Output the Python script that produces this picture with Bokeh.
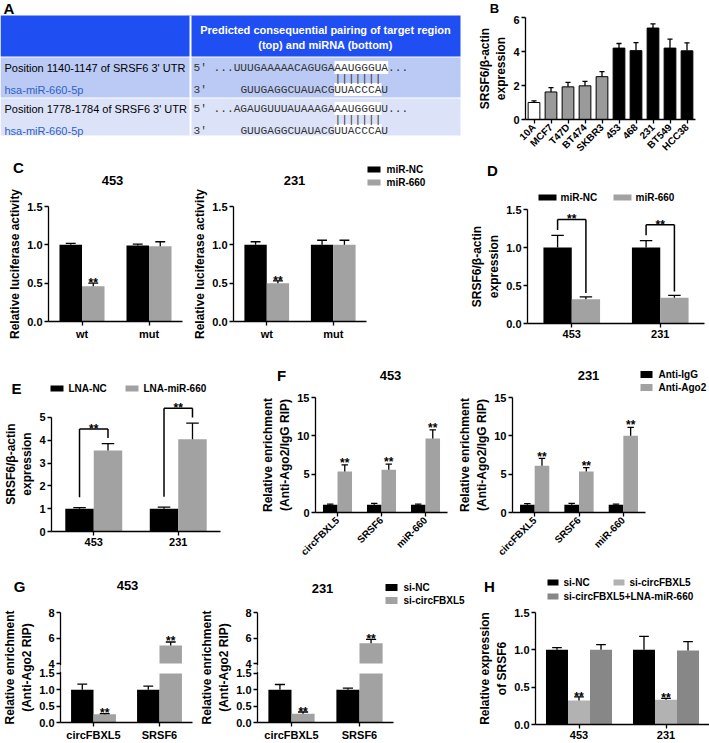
from math import pi
from bokeh.plotting import figure
from bokeh.models import (ColumnDataSource, FactorRange, Range1d, FixedTicker,
                          PrintfTickFormatter, BoxAnnotation)
from bokeh.layouts import row, column
from bokeh.transform import dodge, factor_cmap
from bokeh.core.properties import value
from bokeh.embed import file_html
from bokeh.resources import INLINE

# ------------------------------------------------------------------ data
a_header = ["Predicted consequential pairing of target region", "(top) and miRNA (bottom)"]
a_sites = ["Position 1140-1147 of SRSF6 3' UTR", "Position 1778-1784 of SRSF6 3' UTR"]
a_mirna = ["hsa-miR-660-5p", "hsa-miR-660-5p"]
a_target = ["...UUUGAAAAACAGUGAAAUGGGUA...", "...AGAUGUUUAUAAAGAAAUGGGUU..."]
a_mirseq = ["GUUGAGGCUAUACGUUACCCAU", "GUUGAGGCUAUACGUUACCCAU"]
a_site_len = [8, 7]
a_seed_target = "AAUGGGU"
a_seed_mirna = "UUACCCA"
a_ends = ["5'", "3'"]

b_lines = ["10A", "MCF7", "T47D", "BT474", "SKBR3", "453", "468", "231", "BT549", "HCC38"]
b_group = ["normal", "non-TNBC", "non-TNBC", "non-TNBC", "non-TNBC",
           "TNBC", "TNBC", "TNBC", "TNBC", "TNBC"]
b_vals = [1.0, 1.62, 1.92, 1.98, 2.52, 4.2, 4.05, 5.38, 4.2, 4.04]
b_errs = [0.1, 0.26, 0.26, 0.26, 0.3, 0.27, 0.47, 0.24, 0.53, 0.47]

c_constructs = ["wt", "mut"]
c_series = ["miR-NC", "miR-660"]
c_cells = ["453", "231"]
c453_nc, c453_nc_err = [1.0, 0.99], [0.02, 0.02]
c453_mir, c453_mir_err = [0.46, 0.98], [0.04, 0.06]
c453_sig = ["**", ""]
c231_nc, c231_nc_err = [1.0, 1.0], [0.04, 0.06]
c231_mir, c231_mir_err = [0.5, 1.0], [0.03, 0.06]
c231_sig = ["**", ""]

d_cells = ["453", "231"]
d_series = ["miR-NC", "miR-660"]
d_nc, d_nc_err = [1.0, 1.0], [0.16, 0.09]
d_mir, d_mir_err = [0.32, 0.34], [0.03, 0.03]
d_sig = ["**", "**"]

e_cells = ["453", "231"]
e_series = ["LNA-NC", "LNA-miR-660"]
e_nc, e_nc_err = [1.0, 1.0], [0.05, 0.07]
e_lna, e_lna_err = [3.55, 4.05], [0.3, 0.7]
e_sig = ["**", "**"]

f_targets = ["circFBXL5", "SRSF6", "miR-660"]
f_series = ["Anti-IgG", "Anti-Ago2"]
f_cells = ["453", "231"]
f453_igg, f453_igg_err = [1.0, 1.0, 1.0], [0.1, 0.2, 0.1]
f453_ago, f453_ago_err = [5.35, 5.57, 9.65], [0.85, 0.73, 1.13]
f453_sig = ["**", "**", "**"]
f231_igg, f231_igg_err = [1.0, 1.0, 1.0], [0.15, 0.2, 0.1]
f231_ago, f231_ago_err = [6.1, 5.35, 10.0], [0.95, 0.5, 1.1]
f231_sig = ["**", "**", "**"]

g_targets = ["circFBXL5", "SRSF6"]
g_series = ["si-NC", "si-circFBXL5"]
g_cells = ["453", "231"]
g453_nc, g453_nc_err = [1.0, 1.0], [0.17, 0.11]
g453_si, g453_si_err = [0.25, 5.41], [0.02, 0.28]
g453_sig = ["**", "**"]
g231_nc, g231_nc_err = [1.0, 1.0], [0.16, 0.05]
g231_si, g231_si_err = [0.27, 5.6], [0.05, 0.3]
g231_sig = ["**", "**"]

h_cells = ["453", "231"]
h_series = ["si-NC", "si-circFBXL5", "si-circFBXL5+LNA-miR-660"]
h_nc, h_nc_err = [1.0, 1.0], [0.03, 0.18]
h_si, h_si_err = [0.32, 0.33], [0.05, 0.02]
h_lna, h_lna_err = [1.0, 0.99], [0.07, 0.12]
h_sig = ["**", "**"]

panel_letters = ["A", "B", "C", "D", "E", "F", "G", "H"]

# ------------------------------------------------------------------ style helpers
SC = 1.0
def S(v):
    return int(round(v * SC))

FONT = "Liberation Sans"
MONO = "Liberation Mono"
GRAY = "#A2A2A2"
BGRAY = "#9A9A9A"
HLIGHT = "#B2B2B2"
HDARK = "#878787"
HDR = "#1F4EF2"
ROW1 = "#BACAF4"
ROW2 = "#DCE3F8"
LINKBLUE = "#2F62C6"
NAN = float("nan")


def style_axis(ax, tick_size="11px"):
    ax.axis_line_color = "black"
    ax.axis_line_width = 1.3
    ax.major_tick_line_color = "black"
    ax.major_tick_line_width = 1.3
    ax.major_tick_in = 0
    ax.major_tick_out = 4
    ax.minor_tick_line_color = None
    ax.major_label_text_font = FONT
    ax.major_label_text_font_style = "bold"
    ax.major_label_text_font_size = tick_size
    ax.major_label_text_color = "black"
    ax.major_label_standoff = 2
    ax.axis_label_text_font = FONT
    ax.axis_label_text_font_style = "bold"
    ax.axis_label_text_font_size = "12px"
    ax.axis_label_text_color = "black"
    ax.axis_label_standoff = 2


def fig(box, frame, xr, yr, **kw):
    x0, y0, x1, y1 = box
    fx0, fy0, fx1, fy1 = frame
    p = figure(width=S(x1) - S(x0), height=S(y1) - S(y0), x_range=xr, y_range=yr,
               min_border_left=S(fx0) - S(x0), min_border_right=S(x1) - S(fx1),
               min_border_top=S(fy0) - S(y0), min_border_bottom=S(y1) - S(fy1),
               output_backend="svg", toolbar_location=None, frame_align=False, **kw)
    p.title = None
    p.outline_line_color = None
    p.background_fill_color = "white"
    p.border_fill_color = "white"
    p.xgrid.visible = False
    p.ygrid.visible = False
    for ax in p.axis:
        style_axis(ax)
    return p


def strip(x0, y0, x1, y1):
    p = figure(width=S(x1) - S(x0), height=S(y1) - S(y0), x_range=Range1d(x0, x1),
               y_range=Range1d(-y1, -y0), x_axis_location=None, y_axis_location=None,
               min_border=0, output_backend="svg", toolbar_location=None, frame_align=False)
    p.title = None
    p.outline_line_color = None
    p.background_fill_color = "white"
    p.border_fill_color = "white"
    p.grid.visible = False
    return p


def stext(p, x, y, text, size="13px", align="center", style="bold", color="black"):
    p.text(x=[x], y=[-y], text=[text], text_font=value(FONT), text_font_style=style,
           text_font_size=size, text_align=align, text_baseline="middle", text_color=color)


def slegend(p, labels, colors, xs, ys, sw, sh, gap):
    for lab, col, x, y in zip(labels, colors, xs, ys):
        p.quad(left=[x], right=[x + sw], top=[-(y - sh / 2.0)], bottom=[-(y + sh / 2.0)],
               fill_color=col, line_color=None)
        stext(p, x + sw + gap, y, lab, size="10px", align="left")


def yaxis(p, ticks, fmt, bounds, label=""):
    ax = p.yaxis[0]
    ax.ticker = FixedTicker(ticks=ticks)
    ax.formatter = PrintfTickFormatter(format=fmt)
    ax.bounds = bounds
    ax.axis_label = label


def add_bars(p, cats, vals_list, errs_list, colors, width, line_color=None, cap=0.22):
    n = len(vals_list)
    offs = [(k - (n - 1) / 2.0) * width for k in range(n)]
    for k in range(n):
        vals, errs = vals_list[k], errs_list[k]
        src = ColumnDataSource(dict(cat=list(cats), top=list(vals),
                                    etop=[v + e for v, e in zip(vals, errs)]))
        xc = dodge("cat", offs[k], range=p.x_range)
        p.vbar(x=xc, top="top", bottom=0, width=width, source=src,
               fill_color=colors[k], line_color=line_color, line_width=1)
        p.segment(x0=xc, y0="top", x1=xc, y1="etop", source=src, line_color="black", line_width=1.3)
        p.segment(x0=dodge("cat", offs[k] - cap * width, range=p.x_range), y0="etop",
                  x1=dodge("cat", offs[k] + cap * width, range=p.x_range), y1="etop",
                  source=src, line_color="black", line_width=1.3)
    return offs


def add_stars(p, cats, off, ys, sig, y_range_name="default"):
    src = ColumnDataSource(dict(cat=list(cats), y=list(ys), s=list(sig)))
    p.text(x=dodge("cat", off, range=p.x_range), y="y", text="s", source=src,
           text_font=value(FONT), text_font_style="bold", text_font_size="12px",
           text_align="center", text_baseline="alphabetic", text_color="black",
           y_range_name=y_range_name)


def add_brackets(p, cats, offl, offr, a_top, b_top, h, gl, gr, sig):
    top = [max(a, b) + h for a, b in zip(a_top, b_top)]
    lb = [a + gl for a in a_top]
    rb = [b + gr for b in b_top]
    src = ColumnDataSource(dict(cat=list(cats), top=top, lb=lb, rb=rb))
    xl = dodge("cat", offl, range=p.x_range)
    xr = dodge("cat", offr, range=p.x_range)
    for (x0, y0, x1, y1) in [(xl, "lb", xl, "top"), (xl, "top", xr, "top"), (xr, "rb", xr, "top")]:
        p.segment(x0=x0, y0=y0, x1=x1, y1=y1, source=src, line_color="black", line_width=1.5)
    add_stars(p, cats, (offl + offr) / 2.0, top, sig)


def etops(v, e):
    return [a + b for a, b in zip(v, e)]

# ------------------------------------------------------------------ band 1 : A + B
pa = strip(0, 0, 465, 160)
rows_top = [15, 57, 98]
rows_bot = [56, 97, 135]
pa.quad(left=0, right=460, top=[-t for t in rows_top], bottom=[-b for b in rows_bot],
        fill_color=[HDR, ROW1, ROW2], line_color=None)
pa.segment(x0=190, x1=190, y0=-15, y1=-135, line_color="white", line_width=2)
stext(pa, 3, 8, panel_letters[0], size="15px", align="left")
for j, line in enumerate(a_header):
    stext(pa, 325, 29 + 15 * j, line, size="11px", color="white")
MONO_PX = 11.2
CW = MONO_PX * 0.6 / SC
SEQ_X = 213
for i in range(2):
    r0 = rows_top[i + 1]
    y1, yb, y2 = r0 + 10, r0 + 21, r0 + 32
    stext(pa, 4, y1, a_sites[i], size="11px", align="left", style="normal")
    stext(pa, 4, y2, a_mirna[i], size="11px", align="left", style="normal", color=LINKBLUE)
    k = a_target[i].index(a_seed_target)
    m = a_mirseq[i].index(a_seed_mirna)
    pa.quad(left=[SEQ_X + k * CW, SEQ_X + k * CW],
            right=[SEQ_X + (k + a_site_len[i]) * CW, SEQ_X + (k + len(a_seed_mirna)) * CW],
            top=[-(y1 - 6.5), -(y2 - 6.5)], bottom=[-(y1 + 6.5), -(y2 + 6.5)],
            fill_color="white", line_color=None)
    pa.text(x=[193, 193, SEQ_X, SEQ_X + (k - m) * CW, SEQ_X + k * CW],
            y=[-y1, -y2, -y1, -y2, -yb],
            text=[a_ends[0], a_ends[1], a_target[i], a_mirseq[i], "|" * len(a_seed_target)],
            text_font=value(MONO), text_font_size="%.1fpx" % MONO_PX, text_align="left",
            text_baseline="middle", text_color="#333333")

hb = strip(465, 0, 709, 15)
stext(hb, 494, 7.5, panel_letters[1], size="13px")
B_BOX, B_FR = (465, 15, 709, 160), (525, 17, 695, 120)
pb = fig(B_BOX, B_FR, FactorRange(*b_lines), Range1d(0, 6))
yaxis(pb, [0, 2, 4, 6], "%d", (0, 6), "SRSF6/\u03b2-actin\nexpression")
pb.xaxis.major_label_orientation = pi / 4
pb.xaxis.major_label_text_font_size = "10px"
srcb = ColumnDataSource(dict(cat=b_lines, grp=b_group, top=b_vals, etop=etops(b_vals, b_errs)))
pb.vbar(x="cat", top="top", width=0.69, source=srcb, line_color="black", line_width=1,
        fill_color=factor_cmap("grp", ["white", BGRAY, "black"], ["normal", "non-TNBC", "TNBC"]))
pb.segment(x0="cat", x1="cat", y0="top", y1="etop", source=srcb, line_color="black", line_width=1.3)
pb.segment(x0=dodge("cat", -0.15, range=pb.x_range), x1=dodge("cat", 0.15, range=pb.x_range),
           y0="etop", y1="etop", source=srcb, line_color="black", line_width=1.3)

# ------------------------------------------------------------------ band 2 : C + D
hc = strip(0, 160, 465, 188)
stext(hc, 18, 167, panel_letters[2], size="15px")
stext(hc, 112, 180, c_cells[0])
stext(hc, 294, 180, c_cells[1])
slegend(hc, c_series, ["black", GRAY], [367, 367], [169, 182], 13, 6, 6)

C1_BOX, C1_FR = (0, 188, 190, 350), (48, 206, 182, 321)
C2_BOX, C2_FR = (190, 188, 465, 350), (232, 206, 366, 321)
pcs = []
for box, fr, nc, nce, mi, mie, sig in [
        (C1_BOX, C1_FR, c453_nc, c453_nc_err, c453_mir, c453_mir_err, c453_sig),
        (C2_BOX, C2_FR, c231_nc, c231_nc_err, c231_mir, c231_mir_err, c231_sig)]:
    p = fig(box, fr, FactorRange(*c_constructs), Range1d(0, 1.5))
    yaxis(p, [0, 0.5, 1.0, 1.5], "%.1f", (0, 1.5), "Relative luciferase activity")
    offs = add_bars(p, c_constructs, [nc, mi], [nce, mie], ["black", GRAY], 0.336)
    add_stars(p, c_constructs, offs[1], etops(mi, mie), sig)
    pcs.append(p)
pc1, pc2 = pcs

hd = strip(465, 160, 709, 204)
stext(hd, 492, 170, panel_letters[3], size="15px")
slegend(hd, d_series, ["black", GRAY], [538, 613], [197, 197], 18, 6, 4)
D_BOX, D_FR = (465, 204, 709, 350), (527, 209, 704, 323)
pd = fig(D_BOX, D_FR, FactorRange(*d_cells), Range1d(0, 1.5))
yaxis(pd, [0, 0.5, 1.0, 1.5], "%.1f", (0, 1.5), "SRSF6/\u03b2-actin\nexpression")
offd = add_bars(pd, d_cells, [d_nc, d_mir], [d_nc_err, d_mir_err], ["black", GRAY], 0.32)
add_brackets(pd, d_cells, offd[0], offd[1], etops(d_nc, d_nc_err), etops(d_mir, d_mir_err),
             0.21, 0.07, 0.05, d_sig)

# ------------------------------------------------------------------ band 3 : E + F
he = strip(0, 350, 258, 396)
stext(he, 16, 388, panel_letters[4], size="15px")
slegend(he, e_series, ["black", GRAY], [50, 125], [388, 388], 13, 6, 5)
E_BOX, E_FR = (0, 396, 258, 566), (48, 396, 220, 531)
pe = fig(E_BOX, E_FR, FactorRange(*e_cells), Range1d(0, 5.92))
yaxis(pe, [0, 1, 2, 3, 4, 5], "%d", (0, 5), "SRSF6/\u03b2-actin\nexpression")
offe = add_bars(pe, e_cells, [e_nc, e_lna], [e_nc_err, e_lna_err], ["black", GRAY], 0.337)
add_brackets(pe, e_cells, offe[0], offe[1], etops(e_nc, e_nc_err), etops(e_lna, e_lna_err),
             0.65, 0.45, 0.25, e_sig)

hf = strip(258, 350, 709, 393)
stext(hf, 281, 375, panel_letters[5], size="15px")
stext(hf, 390, 375, f_cells[0])
stext(hf, 588, 375, f_cells[1])
slegend(hf, f_series, ["black", GRAY], [640, 640], [374, 387], 12, 7, 6)
F1_BOX, F1_FR = (258, 393, 455, 566), (310, 397, 447, 512)
F2_BOX, F2_FR = (455, 393, 709, 566), (508, 397, 645, 512)
pfs = []
for box, fr, ig, ige, ag, age, sig in [
        (F1_BOX, F1_FR, f453_igg, f453_igg_err, f453_ago, f453_ago_err, f453_sig),
        (F2_BOX, F2_FR, f231_igg, f231_igg_err, f231_ago, f231_ago_err, f231_sig)]:
    p = fig(box, fr, FactorRange(*f_targets), Range1d(0, 15))
    yaxis(p, [0, 5, 10, 15], "%d", (0, 15), "Relative enrichment\n(Anti-Ago2/IgG RIP)")
    p.xaxis.major_label_orientation = pi / 4
    p.xaxis.major_label_text_font_size = "10px"
    offs = add_bars(p, f_targets, [ig, ag], [ige, age], ["black", GRAY], 0.33)
    add_stars(p, f_targets, offs[1], [v + 0.25 for v in etops(ag, age)], sig)
    pfs.append(p)
pf1, pf2 = pfs

# ------------------------------------------------------------------ band 4 : G + H
hg = strip(0, 566, 709, 608)
stext(hg, 19, 586, panel_letters[6], size="15px")
stext(hg, 127, 585, g_cells[0])
stext(hg, 322, 588, g_cells[1])
slegend(hg, g_series, ["black", GRAY], [385, 385], [587, 600], 12, 7, 6)
stext(hg, 489, 586, panel_letters[7], size="15px")
slegend(hg, h_series, ["black", HLIGHT, HDARK], [547, 613, 547], [582, 582, 596], 11, 6, 5)

G1_BOX, G1_FR = (0, 608, 197, 743), (56, 612, 192, 724)
G2_BOX, G2_FR = (197, 608, 470, 743), (253, 612, 393, 724)
G_LOW_TOP, G_UP_BOT = 674, 664


def g_panel(box, fr, nc, nce, si, sie, sig):
    Ft = S(fr[3]) - S(fr[1])
    L = S(fr[3]) - S(G_LOW_TOP)
    U = S(G_UP_BOT) - S(fr[1])
    low_end = 1.5 * Ft / L
    u0 = 4 - (Ft - U) * 4.0 / U
    p = fig(box, fr, FactorRange(*g_targets), Range1d(0, low_end))
    p.extra_y_ranges = {"upper": Range1d(u0, 8)}

    def to_low(t):
        return round(((Ft - U) + (t - 4) * U / 4.0) / Ft * low_end, 4)
    up_ticks = [4, 6, 8]
    yaxis(p, [0, 0.5, 1.0, 1.5] + [to_low(t) for t in up_ticks], "%.1f", (0, to_low(8)),
          "Relative enrichment\n(Anti-Ago2 RIP)")
    p.yaxis[0].major_label_overrides = {to_low(t): str(t) for t in up_ticks}
    w = 0.34
    offs = [-w / 2, w / 2]
    for k, (vals, errs, col) in enumerate([(nc, nce, "black"), (si, sie, GRAY)]):
        et = etops(vals, errs)
        src = ColumnDataSource(dict(
            cat=g_targets,
            lo=[min(v, 1.5) for v in vals],
            lo_e=[e if v < 1.5 else NAN for v, e in zip(vals, et)],
            lo_b=[v if v < 1.5 else NAN for v in vals],
            hi=[max(v, 4) for v in vals],
            hi_e=[e if v > 4 else NAN for v, e in zip(vals, et)],
            hi_b=[v if v > 4 else NAN for v in vals]))
        xc = dodge("cat", offs[k], range=p.x_range)
        xa = dodge("cat", offs[k] - 0.22 * w, range=p.x_range)
        xb = dodge("cat", offs[k] + 0.22 * w, range=p.x_range)
        p.vbar(x=xc, top="lo", bottom=0, width=w, source=src, fill_color=col, line_color=None)
        p.vbar(x=xc, top="hi", bottom=4, width=w, source=src, fill_color=col, line_color=None,
               y_range_name="upper")
        for yb, ye, rn in [("lo_b", "lo_e", "default"), ("hi_b", "hi_e", "upper")]:
            p.segment(x0=xc, y0=yb, x1=xc, y1=ye, source=src, line_color="black", line_width=1.3,
                      y_range_name=rn)
            p.segment(x0=xa, y0=ye, x1=xb, y1=ye, source=src, line_color="black", line_width=1.3,
                      y_range_name=rn)
    et = etops(si, sie)
    add_stars(p, g_targets, offs[1], [e + 0.01 if v < 1.5 else NAN for v, e in zip(si, et)], sig)
    add_stars(p, g_targets, offs[1], [e + 0.05 if v > 4 else NAN for v, e in zip(si, et)], sig,
              y_range_name="upper")
    px_unit = low_end / Ft
    p.add_layout(BoxAnnotation(left=-8, right=3, left_units="screen", right_units="screen",
                               bottom=1.5 + 1.5 * px_unit, top=to_low(4) - 1.5 * px_unit,
                               fill_color="white", fill_alpha=1.0, line_color=None, level="overlay"))
    return p


pg1 = g_panel(G1_BOX, G1_FR, g453_nc, g453_nc_err, g453_si, g453_si_err, g453_sig)
pg2 = g_panel(G2_BOX, G2_FR, g231_nc, g231_nc_err, g231_si, g231_si_err, g231_sig)

H_BOX, H_FR = (470, 608, 709, 743), (535, 612, 709, 724)
ph = fig(H_BOX, H_FR, FactorRange(*h_cells), Range1d(0, 1.5))
yaxis(ph, [0, 0.5, 1.0, 1.5], "%.1f", (0, 1.5), "Relative expression\nof SRSF6")
offh = add_bars(ph, h_cells, [h_nc, h_si, h_lna], [h_nc_err, h_si_err, h_lna_err],
                ["black", HLIGHT, HDARK], 0.253)
add_stars(ph, h_cells, offh[1], etops(h_si, h_si_err), h_sig)

# ------------------------------------------------------------------ layout
band1 = row(pa, column(hb, pb))
band2 = row(column(hc, row(pc1, pc2)), column(hd, pd))
band3 = row(column(he, pe), column(hf, row(pf1, pf2)))
band4 = column(hg, row(pg1, pg2, ph))
layout = column(band1, band2, band3, band4)
open("out.html", "w").write(file_html(layout, INLINE))
